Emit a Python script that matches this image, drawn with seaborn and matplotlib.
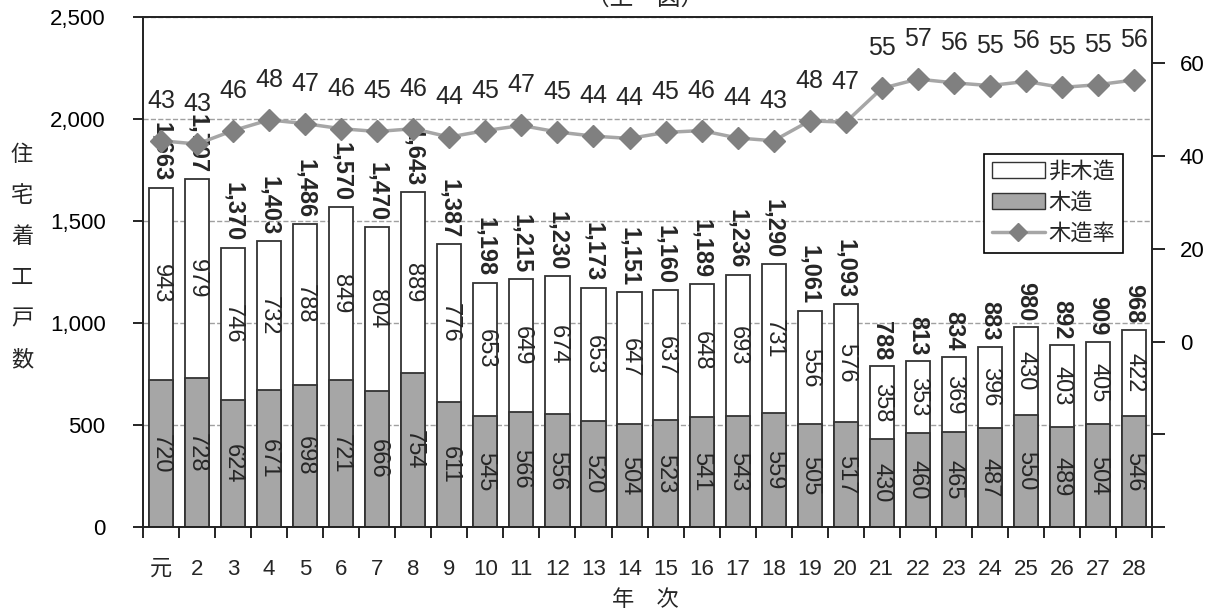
import numpy as np
import pandas as pd
import matplotlib
matplotlib.use("Agg")
import matplotlib.pyplot as plt
from matplotlib.patches import Patch
from matplotlib.lines import Line2D
from matplotlib.ticker import FuncFormatter
import seaborn as sns

# data
years = ["元"] + [str(i) for i in range(2, 29)]
wood = [720, 728, 624, 671, 698, 721, 666, 754, 611, 545, 566, 556, 520, 504,
        523, 541, 543, 559, 505, 517, 430, 460, 465, 487, 550, 489, 504, 546]
non_wood = [943, 979, 746, 732, 788, 849, 804, 889, 776, 653, 649, 674, 653, 647,
            637, 648, 693, 731, 556, 576, 358, 353, 369, 396, 430, 403, 405, 422]
total = [1663, 1707, 1370, 1403, 1486, 1570, 1470, 1643, 1387, 1198, 1215, 1230, 1173, 1151,
         1160, 1189, 1236, 1290, 1061, 1093, 788, 813, 834, 883, 980, 892, 909, 968]
rate = [43.3, 42.6, 45.5, 47.8, 47.0, 45.9, 45.3, 45.9, 44.1, 45.5, 46.6, 45.2, 44.3, 43.8,
        45.1, 45.5, 43.9, 43.3, 47.6, 47.3, 54.6, 56.6, 55.8, 55.2, 56.1, 54.8, 55.4, 56.4]
rate_label = [43, 43, 46, 48, 47, 46, 45, 46, 44, 45, 47, 45, 44, 44,
              45, 46, 44, 43, 48, 47, 55, 57, 56, 55, 56, 55, 55, 56]

sns.set_theme(style="ticks")
plt.rcParams["font.family"] = ["Liberation Sans", "Noto Sans CJK JP"]

df = pd.DataFrame({"year": years, "wood": wood, "non_wood": non_wood, "total": total})

grey = "#a6a6a6"
edge = "#333333"
fig = plt.figure(figsize=(12.09, 6.15), dpi=100)
ax = fig.add_axes([0.1183, 0.1431, 0.8346, 0.8293])

# stacked bars: total (white) then wood (grey) on top of it
sns.barplot(data=df, x="year", y="total", color="white", edgecolor=edge,
            linewidth=1.3, width=0.67, saturation=1, ax=ax)
sns.barplot(data=df, x="year", y="wood", color=grey, edgecolor=edge,
            linewidth=1.3, width=0.67, saturation=1, ax=ax)

ax.set_ylim(0, 2500)
ax.set_yticks(range(0, 2501, 500))
ax.yaxis.set_major_formatter(FuncFormatter(lambda v, p: f"{v:,.0f}"))
ax.set_axisbelow(True)
ax.yaxis.grid(True, linestyle="--", color="#a0a0a0", linewidth=1)
ax.set_xlabel("")
ax.set_ylabel("")

for i in range(len(years)):
    ax.text(i, wood[i] / 2, str(wood[i]), rotation=270, ha="center", va="center", fontsize=17)
    ax.text(i, wood[i] + non_wood[i] / 2, str(non_wood[i]), rotation=270,
            ha="center", va="center", fontsize=17)
    ax.annotate(f"{total[i]:,}", (i, total[i]), xytext=(0, 6), textcoords="offset pixels",
                rotation=270, ha="center", va="bottom", fontsize=17, fontweight="bold")

for s in ax.spines.values():
    s.set_visible(True)
    s.set_color("black")
    s.set_linewidth(1.2)

# wood ratio line on right axis
ax2 = ax.twinx()
ax2.plot(np.arange(len(years)), rate, color=grey, lw=2.5, marker="D", ms=11,
         mfc="#808080", mec="#808080", zorder=3)
ax2.set_ylim(-40, 70)
ax2.set_yticks([-40, -20, 0, 20, 40, 60])
ax2.yaxis.set_major_formatter(FuncFormatter(lambda v, p: f"{v:.0f}" if v >= 0 else ""))
ax2.tick_params(axis="y", labelsize=16, length=9, width=1.2, pad=11, colors="black")
for i in range(len(years)):
    ax2.annotate(str(rate_label[i]), (i, rate[i]), xytext=(0, 40), textcoords="offset pixels",
                 ha="center", va="center", fontsize=18)

ax.set_xlim(-0.5, len(years) - 0.5)
ax.set_xticks(range(len(years)))
ax.set_xticklabels(years)
ax.set_xticks(np.arange(-0.5, len(years), 1), minor=True)
ax.tick_params(axis="x", which="major", length=0, labelsize=16, pad=23)
ax.tick_params(axis="x", which="minor", length=8, width=1.2, color="black")
ax.tick_params(axis="y", labelsize=16, length=7, width=1.2, pad=20, colors="black")

handles = [Patch(facecolor="white", edgecolor=edge, label="非木造"),
           Patch(facecolor=grey, edgecolor=edge, label="木造"),
           Line2D([0], [0], color=grey, lw=2.5, marker="D", ms=9,
                  mfc="#808080", mec="#808080", label="木造率")]
leg = ax2.legend(handles=handles, loc="upper right", bbox_to_anchor=(0.982, 0.753),
                 fontsize=16, frameon=True, fancybox=False, handlelength=2.4,
                 labelspacing=0.45, borderpad=0.35, handletextpad=0.15)
leg.get_frame().set_edgecolor("black")
leg.get_frame().set_linewidth(1.2)
leg.get_frame().set_alpha(1)

fig.text(22 / 1209, 1 - 258 / 615, "住\n宅\n着\n工\n戸\n数", ha="center", va="center",
         fontsize=16, linespacing=2.25)
fig.text(645 / 1209, 1 - 600 / 615, "年　次", ha="center", va="center", fontsize=16)
fig.text(645 / 1209, 1.002, "（上　図）", ha="center", va="center", fontsize=17)

fig.savefig("out.png", dpi=100)
